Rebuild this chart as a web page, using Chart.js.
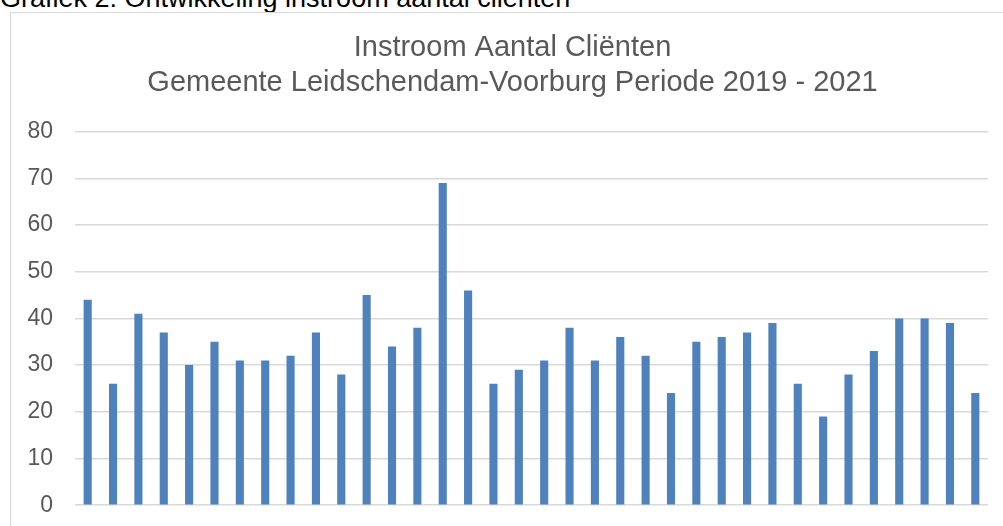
<!DOCTYPE html>
<html>
<head>
<meta charset="utf-8">
<script src="https://cdn.jsdelivr.net/npm/chart.js@4"></script>
<style>
  html, body { margin: 0; padding: 0; background: #fff; overflow: hidden; }
  body { width: 1003px; height: 526px; position: relative; font-family: "Liberation Sans", Arial, sans-serif; }
  #caption { position: absolute; left: 0; top: -17px; font-size: 27px; color: #000; white-space: nowrap; }
  #frame { position: absolute; left: 10px; top: 12px; width: 1010px; height: 540px; border: 1px solid #d9d9d9; }
  /* the frame runs past the bottom of the screenshot, so the canvas does too */
  #wrap { position: absolute; left: 0; top: 0; width: 1003px; height: 541px; }
</style>
</head>
<body>
<div id="caption">Grafiek 2: Ontwikkeling instroom aantal cliënten</div>
<div id="frame"></div>
<div id="wrap"><canvas id="chart"></canvas></div>
<script>
// ── Data ──
const years = ['2019', '2020', '2021'];
const months = ['jan', 'feb', 'mrt', 'apr', 'mei', 'jun', 'jul', 'aug', 'sep', 'okt', 'nov', 'dec'];
const labels = years.flatMap(y => months.map(m => m + ' ' + y));
const instroom = [44, 26, 41, 37, 30, 35, 31, 31, 32, 37, 28, 45,
                  34, 38, 69, 46, 26, 29, 31, 38, 31, 36, 32, 24,
                  35, 36, 37, 39, 26, 19, 28, 33, 40, 40, 39, 24];
const titleLines = ['Instroom Aantal Cliënten', 'Gemeente Leidschendam-Voorburg Periode 2019 - 2021'];

const grey = '#595959';
const font = '"Liberation Sans", Arial, sans-serif';

// title sits centred on the full (partly cropped) frame, not on the plot
const shiftTitle = {
  id: 'shiftTitle',
  afterLayout(chart) {
    const t = chart.titleBlock;
    if (t) { t.left += 13; t.right += 13; }
  }
};

new Chart(document.getElementById('chart').getContext('2d'), {
  type: 'bar',
  data: {
    labels,
    datasets: [{ label: 'Instroom', data: instroom, backgroundColor: '#4f81bd', barPercentage: 0.32, categoryPercentage: 1 }]
  },
  plugins: [shiftTitle],
  options: {
    responsive: true,
    maintainAspectRatio: false,
    animation: false,
    layout: { padding: { left: 11, right: 15, top: 31, bottom: 21 } },
    plugins: {
      legend: { display: false },
      tooltip: { enabled: false },
      title: {
        display: true,
        text: titleLines,
        color: grey,
        font: { family: font, size: 29, weight: 'normal', lineHeight: 1.2 },
        padding: { top: 0, bottom: 31 }
      }
    },
    scales: {
      x: { display: false },
      y: {
        min: 0, max: 80,
        ticks: { stepSize: 10, color: grey, padding: 22, font: { family: font, size: 23 } },
        grid: { color: '#d9d9d9', lineWidth: 1.5, drawTicks: false },
        border: { display: false },
        afterFit: s => { s.width = 64; }
      }
    }
  }
});
</script>
</body>
</html>
